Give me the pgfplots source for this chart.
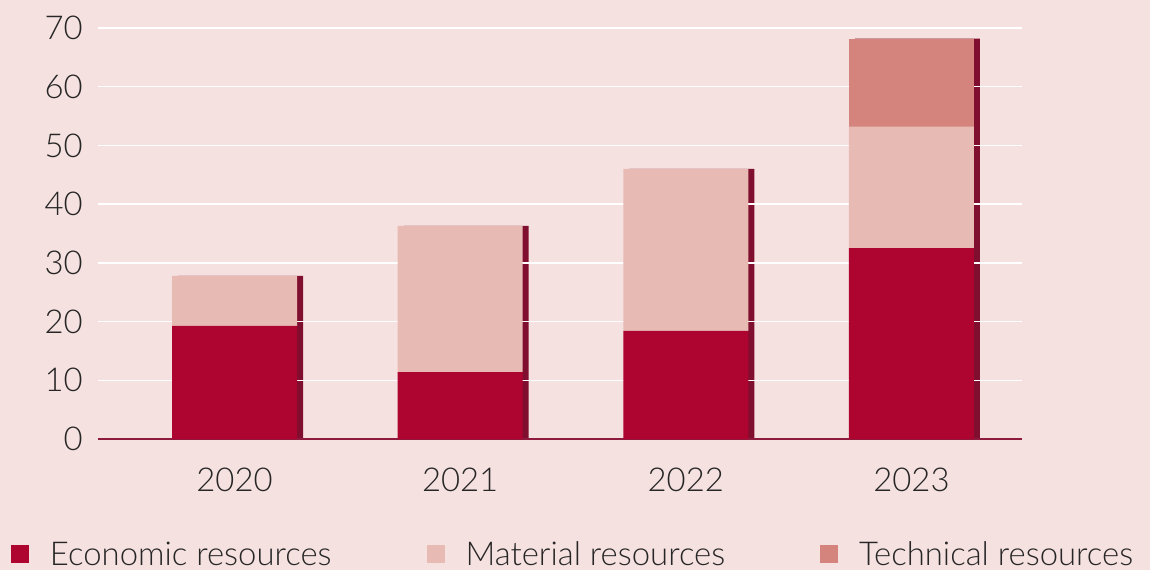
\documentclass[border=0pt]{standalone}
\usepackage{pgfplots}
\pgfplotsset{compat=1.18}
\usepackage{fontspec}
\setmainfont{Lato}[UprightFont={* Light}]
\definecolor{bg}{HTML}{F5E1DF}
\definecolor{econ}{HTML}{AD0430}
\definecolor{mat}{HTML}{E7BBB4}
\definecolor{tech}{HTML}{D4847D}
\definecolor{shade}{HTML}{800E2F}
\definecolor{axisred}{HTML}{8D1B3D}
\definecolor{txt}{HTML}{262626}
\pgfplotsset{
  common/.style={
    scale only axis, width=924bp, height=411bp,
    at={(0,0)}, anchor=south west,
    xmin=-0.605, xmax=3.49, ymin=0, ymax=70,
    clip=false,
  }
}
\begin{document}
\begin{tikzpicture}
\fill[bg] (-98bp,-131bp) rectangle (1052bp,439bp);
% shadow strips
\begin{axis}[common, hide axis, ybar, bar width=0.554, bar shift=6bp]
\addplot[fill=shade, draw=none] coordinates {(0,27.8) (1,36.3) (2,46.0) (3,68.2)};
\end{axis}
\begin{axis}[common,
  ybar stacked, bar width=0.554,
  axis lines*=left,
  y axis line style={draw=none},
  x axis line style={draw=axisred, line width=2.8bp},
  major tick length=0pt,
  ymajorgrids, grid style={white, line width=1.4bp},
  ytick={0,10,...,70},
  xtick={0,1,2,3}, xticklabels={2020,2021,2022,2023},
  /pgf/number format/assume math mode=true,
  ticklabel style={font=\fontsize{33}{38}\selectfont, text=txt, inner sep=0pt},
  xticklabel style={anchor=north, yshift=-29bp},
  yticklabel style={anchor=east, xshift=-15bp},
  legend columns=3,
  legend style={at={(-0.0942,-0.3114)}, anchor=south west, draw=none, fill=none,
    inner sep=0pt, outer sep=0pt, row sep=0pt,
    font=\fontsize{33}{38}\selectfont, text=txt,
    nodes={inner sep=0pt, outer sep=0pt},
    /tikz/every even column/.append style={column sep=95bp}},
  legend image code/.code={
    \fill[#1, draw=none] (0bp,{-6bp-0.3em}) rectangle (18bp,{12bp-0.3em});
    \path[draw=none, fill=none] (0bp,{-6bp-0.3em}) rectangle (39bp,{12bp-0.3em});
  },
]
\addplot[fill=econ, draw=none] coordinates {(0,19.25) (1,11.4) (2,18.4) (3,32.5)};
\addplot[fill=mat, draw=none] coordinates {(0,8.55) (1,24.9) (2,27.6) (3,20.7)};
\addplot[fill=tech, draw=none] coordinates {(0,0) (1,0) (2,0) (3,14.9)};
\legend{Economic resources, Material resources, Technical resources}
\end{axis}
\end{tikzpicture}
\end{document}
